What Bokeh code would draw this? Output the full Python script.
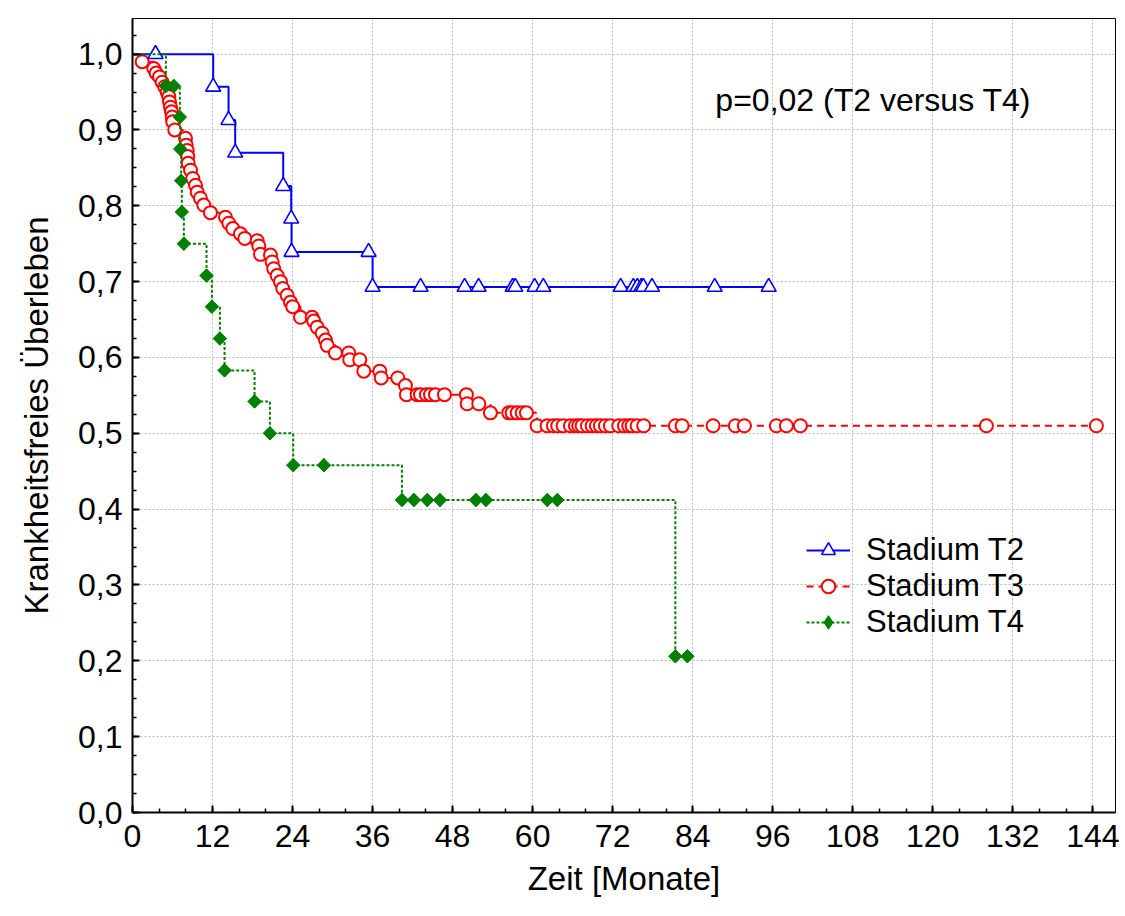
from bokeh.plotting import figure
from bokeh.models import (Range1d, FixedTicker, CustomJSTickFormatter, Legend,
                          LegendItem, Label)
from bokeh.embed import file_html
from bokeh.resources import INLINE

# Kaplan-Meier estimates (months, survival) at each observation marker
t2_time = [3.45, 12.1, 14.4, 15.4, 22.6, 23.8, 23.85, 35.4, 36.0, 43.2, 49.8,
           51.9, 57.0, 57.4, 60.3, 61.6, 73.2, 75.1, 75.7, 76.3, 76.6, 77.9,
           87.3, 95.4]
t2_surv = [1.0, 0.957, 0.913, 0.870, 0.826, 0.783, 0.739, 0.739, 0.693,
           0.693, 0.693, 0.693, 0.693, 0.693, 0.693, 0.693, 0.693, 0.693,
           0.693, 0.693, 0.693, 0.693, 0.693, 0.693]

t3_time = [1.45, 3.19, 3.55, 4.05, 4.45, 4.84, 5.20, 5.44, 5.55, 5.70, 5.85,
           5.95, 6.04, 6.34, 7.95, 8.05, 8.20, 8.29, 8.35, 8.70, 9.04, 9.45,
           9.70, 10.19, 10.69, 11.69, 13.94, 14.44, 15.04, 16.19, 16.84,
           18.70, 18.94, 19.19, 20.69, 20.94, 21.18, 21.69, 22.19, 22.53,
           23.19, 23.69, 24.03, 25.19, 26.94, 27.18, 27.69, 28.44, 28.94,
           29.19, 30.43, 32.43, 32.58, 34.08, 34.68, 37.08, 37.29, 39.78,
           40.93, 41.08, 42.68, 43.18, 44.08, 44.68, 45.43, 46.78, 50.07,
           50.18, 51.92, 53.67, 56.42, 56.93, 57.68, 58.43, 59.07,
           60.67, 62.17, 63.12, 63.76, 64.57, 65.67, 66.42, 66.91, 67.42,
           68.22, 68.92, 69.57, 70.16, 70.91, 71.66, 72.91, 73.76, 74.41,
           74.92, 75.67, 76.66, 81.41, 82.41, 87.06, 90.40, 91.75, 96.55,
           98.05, 100.15, 128.04, 144.53]
t3_surv = [0.990, 0.981, 0.975, 0.970, 0.963, 0.957, 0.950, 0.944, 0.937,
           0.930, 0.924, 0.917, 0.911, 0.900, 0.889, 0.880, 0.873, 0.865,
           0.856, 0.847, 0.836, 0.827, 0.818, 0.810, 0.801, 0.791, 0.785,
           0.777, 0.770, 0.763, 0.757, 0.754, 0.747, 0.736, 0.735, 0.726,
           0.717, 0.708, 0.700, 0.691, 0.682, 0.673, 0.667, 0.653, 0.653,
           0.648, 0.640, 0.632, 0.623, 0.616, 0.606, 0.606, 0.597, 0.597,
           0.582, 0.582, 0.573, 0.573, 0.563, 0.551, 0.551, 0.551, 0.551,
           0.551, 0.551, 0.551, 0.551, 0.539, 0.539, 0.527, 0.527, 0.527,
           0.527, 0.527, 0.527,
           0.510, 0.510, 0.510, 0.510, 0.510, 0.510, 0.510, 0.510, 0.510,
           0.510, 0.510, 0.510, 0.510, 0.510, 0.510, 0.510, 0.510, 0.510,
           0.510, 0.510, 0.510, 0.510, 0.510, 0.510, 0.510, 0.510, 0.510,
           0.510, 0.510, 0.510, 0.510]

t4_time = [5.0, 6.2, 7.1, 7.15, 7.3, 7.4, 7.7, 11.1, 11.9, 13.1, 13.8, 18.3,
           20.6, 24.1, 28.7, 40.4, 42.2, 44.2, 46.1, 51.5, 53.0, 62.2, 63.7,
           81.4, 83.2]
t4_surv = [0.958, 0.958, 0.917, 0.875, 0.833, 0.792, 0.750, 0.708, 0.667,
           0.625, 0.583, 0.542, 0.500, 0.458, 0.458, 0.412, 0.412, 0.412,
           0.412, 0.412, 0.412, 0.412, 0.412, 0.206, 0.206]

x_ticks = [0, 12, 24, 36, 48, 60, 72, 84, 96, 108, 120, 132, 144]
x_minor = [m for m in range(0, 148, 4)]
y_ticks = [0.0, 0.1, 0.2, 0.3, 0.4, 0.5, 0.6, 0.7, 0.8, 0.9, 1.0]
y_minor = [i * 0.025 for i in range(0, 42)]

FONT = "Liberation Sans"

p = figure(width=1125, height=916,
           x_range=Range1d(0, 147.4), y_range=Range1d(0, 1.047),
           output_backend="svg", toolbar_location=None,
           min_border_left=132, min_border_right=10,
           min_border_top=18, min_border_bottom=104)

p.outline_line_color = "black"
p.outline_line_width = 1

p.xaxis.ticker = FixedTicker(ticks=x_ticks, minor_ticks=x_minor)
p.yaxis.ticker = FixedTicker(ticks=y_ticks, minor_ticks=y_minor)
p.yaxis.formatter = CustomJSTickFormatter(
    code="return tick.toFixed(1).replace('.', ',');")

for ax in (p.xaxis[0], p.yaxis[0]):
    ax.axis_line_width = 2
    ax.axis_line_color = "black"
    ax.major_tick_in = 7
    ax.major_tick_out = 0
    ax.minor_tick_in = 4
    ax.minor_tick_out = 0
    ax.major_tick_line_width = 2
    ax.minor_tick_line_width = 1.5
    ax.major_label_text_font = FONT
    ax.major_label_text_font_size = "32px"
    ax.major_label_text_color = "black"
    ax.axis_label_text_font = FONT
    ax.axis_label_text_font_size = "33px"
    ax.axis_label_text_font_style = "normal"
    ax.axis_label_text_color = "black"

p.xaxis.major_label_standoff = 12
p.yaxis.major_label_standoff = 10
p.xaxis.axis_label = "Zeit [Monate]"
p.yaxis.axis_label = "Krankheitsfreies Überleben"
p.xaxis.axis_label_standoff = 10
p.yaxis.axis_label_standoff = 20

p.grid.grid_line_color = "#b8b8b8"
p.grid.grid_line_dash = "2 2"
p.grid.grid_line_width = 1

# Stadium T3: dashed red, open circles
l3 = p.step([0.0] + t3_time, [1.0] + t3_surv, mode="after",
            line_color="#ff0000", line_width=2, line_dash="7 5")
s3 = p.scatter(t3_time, t3_surv, marker="circle", size=13,
               line_color="#ff0000", line_width=2, fill_color="white")

# Stadium T2: solid blue, open triangles
l2 = p.step([0.0] + t2_time, [1.0] + t2_surv, mode="after",
            line_color="#0000ff", line_width=2)
s2 = p.scatter(t2_time, t2_surv, marker="triangle", size=15,
               line_color="#0000ff", line_width=1.6, fill_color="white")

# Stadium T4: dotted green, filled diamonds
l4 = p.step([0.0] + t4_time, [1.0] + t4_surv, mode="after",
            line_color="#008000", line_width=2, line_dash="3 2")
# narrow diamond underneath (serves as the legend key)
k4 = p.scatter(t4_time, t4_surv, marker="diamond", size=13,
               line_color="#008000", fill_color="#008000")
# square turned by 45 degrees on top
s4 = p.scatter(t4_time, t4_surv, marker="square", angle=0.785398, size=9.5,
               line_color="#008000", fill_color="#008000")

legend = Legend(items=[
    LegendItem(label="Stadium T2", renderers=[l2, s2]),
    LegendItem(label="Stadium T3", renderers=[l3, s3]),
    LegendItem(label="Stadium T4", renderers=[l4, k4]),
], location=(674, 172))
legend.label_text_font = FONT
legend.label_text_font_size = "31px"
legend.label_text_color = "black"
legend.glyph_width = 44
legend.glyph_height = 34
legend.label_height = 34
legend.label_standoff = 16
legend.spacing = -2
legend.padding = 0
legend.margin = 0
legend.border_line_alpha = 0
legend.background_fill_alpha = 0
p.add_layout(legend)

p.add_layout(Label(x=87.4, y=0.94, text="p=0,02 (T2 versus T4)",
                   text_font=FONT, text_font_size="32px",
                   text_baseline="middle", text_color="black"))

open("out.html", "w").write(file_html(p, INLINE))
